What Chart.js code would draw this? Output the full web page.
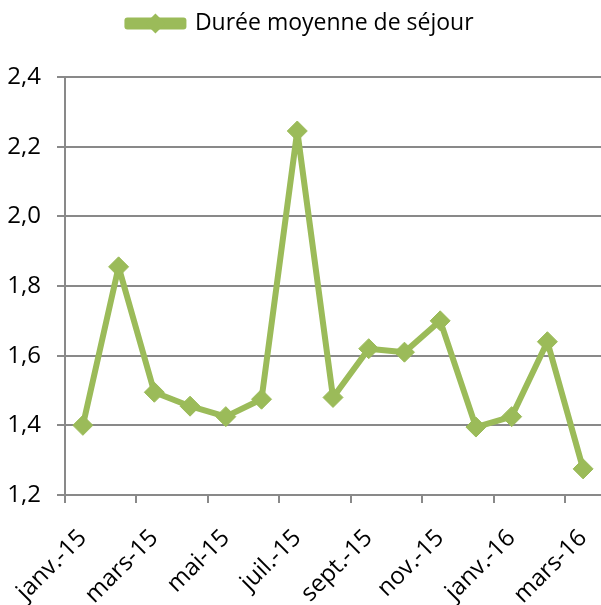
<!DOCTYPE html>
<html>
<head>
<meta charset="utf-8">
<script src="https://cdn.jsdelivr.net/npm/chart.js@4.4.1/dist/chart.umd.min.js"></script>
<style>
  body { margin: 0; background: #fff; }
  #wrap { width: 601px; height: 605px; }
</style>
</head>
<body>
<div id="wrap"><canvas id="chart1" width="601" height="605"></canvas></div>
<script>
// données
const mois = ['janv.-15', 'févr.-15', 'mars-15', 'avr.-15', 'mai-15', 'juin-15', 'juil.-15', 'août-15',
  'sept.-15', 'oct.-15', 'nov.-15', 'déc.-15', 'janv.-16', 'févr.-16', 'mars-16'];
const dureeMoyenne = [1.40, 1.855, 1.495, 1.455, 1.425, 1.475, 2.245, 1.48, 1.62, 1.61, 1.70, 1.395, 1.425, 1.64, 1.275];
const serieNom = 'Durée moyenne de séjour';

const vert = '#9bbb59';
const gris = '#898989';
const police = '"Open Sans", sans-serif';

// losange au milieu du trait de la légende + hauteur fixe de la légende
const legendeLosange = {
  id: 'legendeLosange',
  afterInit(chart) {
    const fitOrig = chart.legend.fit;
    chart.legend.fit = function () {
      fitOrig.call(this);
      this.height = 75;
    };
  },
  afterDraw(chart) {
    const box = chart.legend.legendHitBoxes[0];
    if (!box) return;
    const ctx = chart.ctx;
    const bw = chart.legend.options.labels.boxWidth;
    const cx = box.left + bw / 2;
    const cy = box.top + box.height / 2;
    const r = 10;
    ctx.save();
    ctx.fillStyle = vert;
    ctx.beginPath();
    ctx.moveTo(cx, cy - r);
    ctx.lineTo(cx + r, cy);
    ctx.lineTo(cx, cy + r);
    ctx.lineTo(cx - r, cy);
    ctx.closePath();
    ctx.fill();
    ctx.restore();
  }
};

const ctx = document.querySelector('#chart1').getContext('2d');
const chart = new Chart(ctx, {
  type: 'line',
  data: {
    labels: mois,
    datasets: [{
      label: serieNom,
      data: dureeMoyenne,
      borderColor: vert,
      backgroundColor: vert,
      borderWidth: 6,
      borderJoinStyle: 'round',
      pointStyle: 'rectRot',
      pointRadius: 10,
      pointBorderWidth: 1,
      pointBorderColor: vert,
      pointBackgroundColor: vert,
      tension: 0,
      clip: false
    }]
  },
  options: {
    responsive: false,
    animation: false,
    layout: { autoPadding: false, padding: { top: 2, left: 0, bottom: 0, right: 0 } },
    plugins: {
      tooltip: { enabled: false },
      legend: {
        position: 'top',
        labels: {
          color: '#000',
          font: { family: police, size: 23 },
          boxWidth: 56,
          boxHeight: 6,
          padding: 10
        }
      }
    },
    scales: {
      x: {
        offset: true,
        afterFit(scale) {
          scale.height = 110;
          scale.paddingLeft = 0;
          scale.paddingRight = 0;
        },
        grid: {
          offset: true,
          drawOnChartArea: false,
          tickLength: 8,
          lineWidth: 2,
          color: c => (c.index % 2 === 0 ? gris : 'rgba(0,0,0,0)')
        },
        border: { color: gris, width: 2 },
        ticks: {
          autoSkip: false,
          maxRotation: 45,
          minRotation: 45,
          color: '#000',
          font: { family: police, size: 24 },
          padding: 21,
          callback: function (val, i) { return i % 2 === 0 ? this.getLabelForValue(val) : ''; }
        }
      },
      y: {
        min: 1.2,
        max: 2.4,
        afterFit(scale) {
          scale.width = 65;
          scale.paddingTop = 0;
          scale.paddingBottom = 0;
        },
        grid: { color: gris, lineWidth: 2, tickLength: 8 },
        border: { color: gris, width: 2 },
        ticks: {
          stepSize: 0.2,
          color: '#000',
          padding: 16,
          font: { family: police, size: 24 },
          callback: v => v.toFixed(1).replace('.', ',')
        }
      }
    }
  },
  plugins: [legendeLosange]
});
</script>
</body>
</html>
